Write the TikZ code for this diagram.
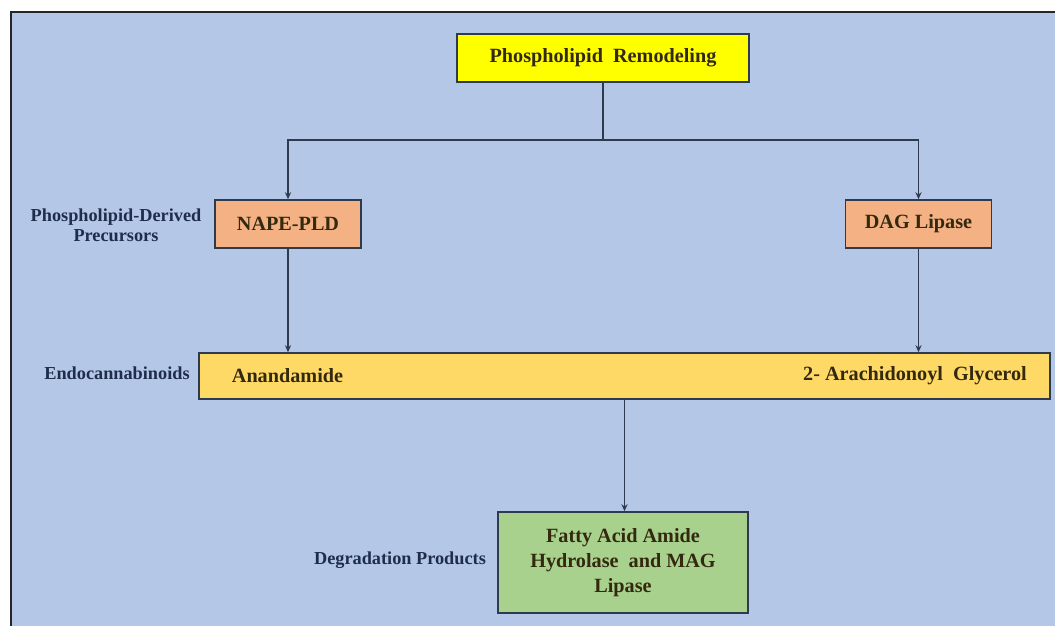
\documentclass[tikz,border=0pt]{standalone}
\usepackage{fontspec}
\setmainfont{Liberation Serif}
\usetikzlibrary{positioning,calc,arrows.meta}
\definecolor{bgblue}{HTML}{B4C7E7}
\definecolor{boxyellow}{HTML}{FFFF00}
\definecolor{boxorange}{HTML}{F4B183}
\definecolor{boxgold}{HTML}{FFD966}
\definecolor{boxgreen}{HTML}{A9D18E}
\definecolor{linedark}{HTML}{2E3A4E}
\definecolor{labelnavy}{HTML}{1F2D4A}
\definecolor{boxtext}{HTML}{33290F}

\begin{document}
\begin{tikzpicture}[
  stepnode/.style={draw=linedark, line width=0.9pt, align=center,
               inner sep=2pt, font=\fontsize{11.5}{14.2}\selectfont\bfseries,
               text=boxtext},
  remod/.style={stepnode, fill=boxyellow, minimum width=5.84cm, minimum height=0.96cm},
  enzyme/.style={stepnode, fill=boxorange, minimum width=2.92cm, minimum height=0.96cm},
  endo/.style={stepnode, fill=boxgold, minimum width=17.02cm, minimum height=0.92cm},
  degrade/.style={stepnode, fill=boxgreen, minimum width=5.0cm, minimum height=2.02cm},
  level/.style={align=center, font=\fontsize{10.4}{11.4}\selectfont\bfseries, text=labelnavy},
  inbar/.style={font=\fontsize{11.5}{14}\selectfont\bfseries, text=boxtext},
  edge/.style={line width=0.9pt, linedark, -{Stealth[length=4pt,width=3.5pt]}},
  plain/.style={line width=0.9pt, linedark},
]
\useasboundingbox (0,0) rectangle (21.1,-12.52);

% Background panel (cut off at right and bottom)
\fill[bgblue] (0.22,-0.24) rectangle (21.1,-12.52);
\draw[line width=1.2pt, black!85] (0.22,-12.52) -- (0.22,-0.24) -- (21.1,-0.24);

% Top: remodeling
\node[remod] (remod) at (12.06,-1.16) {Phospholipid~~Remodeling};

% Row 1: precursor enzymes
\node[enzyme] (nape) at (5.76,-4.48) {NAPE-PLD};
\node[enzyme] (dag) at (18.37,-4.48) {DAG Lipase};
\node[level] (lvlprec) at (2.32,-4.5) {Phospholipid-Derived\\Precursors};

% Row 2: endocannabinoids bar
\node[endo] (endo) at (12.49,-7.52) {};
\node[inbar] (aea) at (5.75,-7.52) {Anandamide};
\node[inbar, anchor=east] (ag) at (20.66,-7.52) {2- Arachidonoyl~~Glycerol};
\node[level] (lvlendo) at (2.34,-7.46) {Endocannabinoids};

% Row 3: degradation
\node[degrade] (faah) at (12.46,-11.25) {Fatty Acid Amide\\Hydrolase~~and MAG\\Lipase};
\node[level] (lvldeg) at (8.0,-11.2) {Degradation Products};

% Connectors
\coordinate (split) at (remod.south |- 0,-2.8);
\draw[plain] (remod) -- (split);
\draw[edge] (split) -| (nape);
\draw[edge] (split) -| (dag);
\draw[edge] (nape) -- (nape |- endo.north);
\draw[edge] (dag) -- (dag |- endo.north);
\draw[edge] (endo) -- (endo |- faah.north);

\end{tikzpicture}
\end{document}
